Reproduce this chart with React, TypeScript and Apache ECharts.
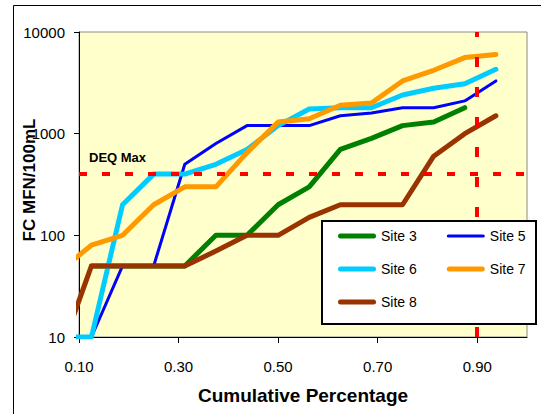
import React, { useEffect, useRef } from "react";
import * as echarts from "echarts";

// Cumulative percentage (plotting positions) shared by all sites
const cumPct = [0.0625, 0.125, 0.1875, 0.25, 0.3125, 0.375, 0.4375, 0.5, 0.5625, 0.625, 0.6875, 0.75, 0.8125, 0.875, 0.9375];

// FC MFN/100mL values
const site3 = [null, 50, 50, 50, 50, 100, 100, 200, 300, 700, 900, 1200, 1300, 1800, null];
const site5 = [10, 10, 50, 50, 500, 800, 1200, 1200, 1200, 1500, 1600, 1800, 1800, 2100, 3300];
const site6 = [10, 10, 200, 400, 400, 500, 700, 1200, 1750, 1800, 1800, 2400, 2800, 3100, 4300];
const site7 = [45, 80, 100, 200, 300, 300, 650, 1300, 1400, 1900, 2000, 3300, 4200, 5600, 6000];
const site8 = [7, 50, 50, 50, 50, 70, 100, 100, 150, 200, 200, 200, 600, 1000, 1500];

const xTicks = [0.1, 0.3, 0.5, 0.7, 0.9];
const deqMax = 400;
const cutoffPct = 0.9;
const yTitle = "FC MFN/100mL";
const xTitle = "Cumulative Percentage";

const FONT = '"Liberation Sans", Arial, sans-serif';

const THICK_ICON = "path://M2.5,0h33a2.5,2.5 0 0 1 0,5h-33a2.5,2.5 0 0 1 0,-5z";
const THIN_ICON = "path://M0,0M38,5M1.5,1h35a1.5,1.5 0 0 1 0,3h-35a1.5,1.5 0 0 1 0,-3z";

function pairs(vals: (number | null)[]) {
  const out: [number, number][] = [];
  vals.forEach((v, i) => {
    if (v !== null) out.push([cumPct[i], v]);
  });
  return out;
}

export default function App() {
  const ref = useRef<HTMLDivElement>(null);
  useEffect(() => {
    if (!ref.current) return;
    const chart = echarts.init(ref.current, undefined, { renderer: "svg" });
    const mk = (name: string, vals: (number | null)[], color: string, width: number, extra: any = {}) => ({
      name,
      type: "line",
      data: pairs(vals),
      symbol: "none",
      clip: true,
      lineStyle: { color, width, cap: "round", join: "round" },
      itemStyle: { color },
      ...extra,
    });
    const legendBase = {
      left: 338,
      padding: 0,
      itemWidth: 38,
      itemHeight: 5,
      itemGap: 30,
      textStyle: { fontSize: 14, color: "#000", fontFamily: FONT },
      z: 11,
    };
    const option: any = {
      animation: false,
      backgroundColor: "#ffffff",
      textStyle: { fontFamily: FONT },
      grid: {
        left: 79,
        top: 32,
        right: 14,
        bottom: 77,
        containLabel: false,
        show: true,
        backgroundColor: "#FFFFCC",
        borderColor: "#8a8a8a",
        borderWidth: 1,
      },
      xAxis: {
        type: "value",
        min: 0.1,
        max: 1.0,
        axisLine: { show: true, onZero: false, lineStyle: { color: "#000", width: 1 } },
        axisTick: { show: true, length: 6, lineStyle: { color: "#000" }, customValues: xTicks },
        axisLabel: {
          customValues: xTicks,
          formatter: (v: number) => v.toFixed(2),
          fontSize: 15,
          color: "#000",
          margin: 22,
          fontFamily: FONT,
        },
        splitLine: { show: false },
        name: xTitle,
        nameLocation: "middle",
        nameGap: 49,
        nameTextStyle: { fontSize: 19, fontWeight: "bold", color: "#000", fontFamily: FONT },
      },
      yAxis: {
        type: "log",
        logBase: 10,
        min: 10,
        max: 10000,
        axisLine: { show: true, lineStyle: { color: "#000", width: 1 } },
        axisTick: { show: true, length: 5, lineStyle: { color: "#000" } },
        minorTick: { show: false },
        axisLabel: {
          formatter: (v: number) => String(Math.round(v)),
          fontSize: 15,
          color: "#000",
          margin: 14,
          fontFamily: FONT,
        },
        splitLine: { show: false },
      },
      legend: [
        {
          ...legendBase,
          top: 229,
          data: [
            { name: "Site 3", icon: THICK_ICON },
            { name: "Site 5", icon: THIN_ICON },
          ],
        },
        {
          ...legendBase,
          top: 262,
          data: [
            { name: "Site 6", icon: THICK_ICON },
            { name: "Site 7", icon: THICK_ICON },
          ],
        },
        {
          ...legendBase,
          top: 295,
          data: [{ name: "Site 8", icon: THICK_ICON }],
        },
      ],
      graphic: [
        {
          type: "rect",
          silent: true,
          z: 0,
          shape: { x: 13.5, y: 5.5, width: 600, height: 500 },
          style: { fill: "none", stroke: "#000", lineWidth: 1 },
        },
        {
          type: "text",
          silent: true,
          z: 5,
          x: 29,
          y: 180,
          rotation: Math.PI / 2,
          style: {
            text: yTitle,
            fill: "#000",
            font: 'bold 17px "Liberation Sans", Arial, sans-serif',
            textAlign: "center",
            textVerticalAlign: "middle",
          },
        },
        {
          type: "rect",
          silent: true,
          z: 10,
          shape: { x: 322, y: 221, width: 214, height: 103 },
          style: { fill: "#ffffff", stroke: "#000", lineWidth: 2 },
        },
      ],
      series: [
        mk("Site 3", site3, "#008000", 5),
        mk("Site 5", site5, "#0000FF", 3),
        mk("Site 6", site6, "#00CCFF", 5),
        mk("Site 7", site7, "#FF9900", 5),
        mk("Site 8", site8, "#993300", 5, {
          markLine: {
            silent: true,
            symbol: ["none", "none"],
            animation: false,
            data: [
              {
                yAxis: deqMax,
                lineStyle: { color: "#FF0000", width: 4, type: [8, 15], cap: "butt" },
                label: {
                  show: true,
                  position: "insideStartTop",
                  formatter: "DEQ Max",
                  color: "#000",
                  fontWeight: "bold",
                  fontSize: 13,
                  fontFamily: FONT,
                  distance: [10, 10],
                },
              },
              {
                xAxis: cutoffPct,
                lineStyle: { color: "#FF0000", width: 4, type: [10, 20], cap: "butt" },
                label: { show: false },
              },
            ],
          },
        }),
      ],
    };
    chart.setOption(option);
    return () => chart.dispose();
  }, []);
  return <div ref={ref} style={{ position: "fixed", left: 0, top: 0, width: 541, height: 414 }} />;
}
